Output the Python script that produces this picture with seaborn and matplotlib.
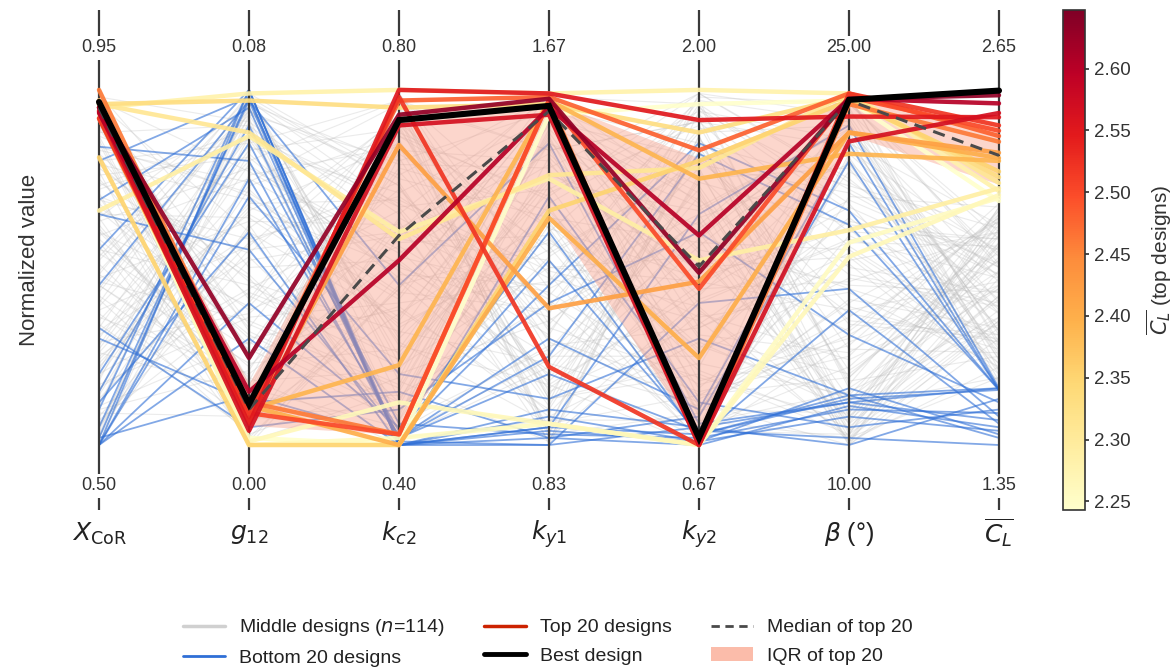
import numpy as np
import pandas as pd
import matplotlib
matplotlib.use("Agg")
import matplotlib.pyplot as plt
import seaborn as sns
from matplotlib.lines import Line2D
from matplotlib.patches import Patch
from matplotlib.colors import Normalize
from matplotlib.cm import ScalarMappable

sns.set_theme(style="white")
plt.rcParams['font.family'] = ['Liberation Sans', 'DejaVu Sans']

# ---------------- axes definition ----------------
axis_labels = [r"$X_{\mathrm{CoR}}$", r"$g_{12}$", r"$k_{c2}$", r"$k_{y1}$",
               r"$k_{y2}$", r"$\beta$ (°)", r"$\overline{C_L}$"]
axis_min = [0.50, 0.00, 0.40, 0.83, 0.67, 10.00, 1.35]
axis_max = [0.95, 0.08, 0.80, 1.67, 2.00, 25.00, 2.65]

# ---------------- top 20 designs (normalized values) ----------------
top_x = [0.966, 0.95, 0.935, 0.94, 0.95, 0.92, 0.94, 0.95, 1.0, 0.92, 0.97, 0.96, 0.81, 0.96, 0.96, 0.66, 0.95, 0.97, 0.96, 0.93]
top_g = [0.115, 0.245, 0.15, 0.04, 0.06, 0.08, 0.09, 0.10, 0.12, 0.06, 0.11, 0.10, 0.0, 0.97, 0.88, 0.87, 0.99, 0.01, 0.0, 0.02]
top_kc = [0.915, 0.93, 0.52, 0.90, 1.0, 0.98, 0.03, 0.97, 0.03, 0.845, 0.0, 0.225, 0.0, 0.95, 0.58, 0.60, 1.0, 0.12, 0.02, 0.0]
top_ky1 = [0.955, 0.975, 0.95, 0.93, 0.99, 0.22, 0.97, 0.98, 0.97, 0.385, 0.64, 0.97, 0.66, 0.96, 0.76, 0.75, 0.99, 0.06, 0.06, 0.93]
top_ky2 = [0.02, 0.485, 0.59, 0.0, 0.915, 0.0, 0.44, 0.83, 0.0, 0.46, 0.245, 0.75, 0.80, 0.88, 0.78, 0.52, 1.0, 0.0, 0.0, 0.96]
top_beta = [0.972, 0.975, 0.975, 0.855, 0.925, 0.99, 0.98, 0.99, 0.96, 0.88, 0.88, 0.82, 0.97, 0.98, 0.99, 0.605, 0.99, 0.53, 0.57, 0.97]
top_cl = [0.998, 0.985, 0.962, 0.935, 0.923, 0.90, 0.885, 0.87, 0.854, 0.823, 0.808, 0.80, 0.77, 0.754, 0.738, 0.723, 0.715, 0.704, 0.696, 0.687]

# ---------------- bottom 20 designs ----------------
bot_x = [0.00, 0.02, 0.84, 0.69, 0.65, 0.10, 0.00, 0.30, 0.33, 0.05, 0.15, 0.55, 0.00, 0.20, 0.00, 0.80, 0.45, 0.00, 0.02, 0.12]
bot_g = [1.00, 0.98, 0.80, 0.95, 0.55, 1.00, 0.40, 0.12, 0.05, 0.97, 0.90, 1.00, 0.30, 0.85, 0.70, 0.98, 0.97, 0.75, 0.14, 0.60]
bot_kc = [0.00, 0.00, 0.02, 0.00, 0.03, 0.01, 0.05, 0.15, 0.10, 0.00, 0.02, 0.00, 0.00, 0.06, 0.20, 0.00, 0.45, 0.04, 0.02, 0.00]
bot_ky1 = [0.05, 0.10, 0.30, 0.02, 0.45, 0.00, 0.60, 0.02, 0.40, 0.08, 0.20, 0.05, 0.70, 0.03, 0.13, 0.00, 0.85, 0.52, 0.25, 0.04]
bot_ky2 = [0.03, 0.05, 0.10, 0.08, 0.85, 0.40, 0.02, 0.00, 0.60, 0.01, 0.04, 0.65, 0.12, 0.02, 0.30, 0.05, 0.06, 0.03, 0.82, 0.01]
bot_beta = [0.13, 0.12, 0.85, 0.80, 0.66, 0.44, 0.38, 0.11, 0.31, 0.08, 0.02, 0.90, 0.05, 0.10, 0.14, 0.00, 0.12, 0.14, 0.62, 0.16]
bot_cl = [0.155, 0.16, 0.155, 0.155, 0.155, 0.08, 0.06, 0.05, 0.12, 0.04, 0.00, 0.16, 0.10, 0.09, 0.02, 0.13, 0.07, 0.16, 0.155, 0.03]

# ---------------- middle 114 designs ----------------
mid_x = [0.12, 0.85, 0.43, 0.67, 0.05, 0.91, 0.28, 0.56, 0.74, 0.18, 0.97, 0.35, 0.62, 0.08, 0.49, 0.81, 0.23, 0.70, 0.39,
         0.94, 0.15, 0.58, 0.31, 0.77, 0.02, 0.46, 0.88, 0.26, 0.65, 0.53, 0.11, 0.99, 0.37, 0.72, 0.20, 0.60, 0.84, 0.04,
         0.41, 0.69, 0.14, 0.90, 0.33, 0.57, 0.79, 0.07, 0.48, 0.95, 0.25, 0.63, 0.86, 0.17, 0.52, 0.01, 0.75, 0.30, 0.92,
         0.22, 0.66, 0.44, 0.09, 0.83, 0.55, 0.36, 0.98, 0.13, 0.71, 0.27, 0.89, 0.47, 0.03, 0.61, 0.78, 0.19, 0.93, 0.40,
         0.06, 0.73, 0.51, 0.87, 0.29, 0.64, 0.10, 0.96, 0.34, 0.80, 0.16, 0.59, 0.45, 0.00, 0.68, 0.24, 0.91, 0.38, 0.76,
         0.54, 0.21, 0.82, 0.42, 0.97, 0.11, 0.60, 0.32, 0.87, 0.05, 0.70, 0.48, 0.15, 0.93, 0.26, 0.64, 0.02, 0.79, 0.45]
mid_g = [0.72, 0.05, 0.95, 0.38, 0.61, 0.18, 0.88, 0.02, 0.47, 0.99, 0.26, 0.80, 0.13, 0.55, 0.93, 0.33, 0.67, 0.09, 0.84,
         0.41, 0.97, 0.22, 0.59, 0.01, 0.76, 0.35, 0.90, 0.15, 0.64, 0.98, 0.29, 0.50, 0.07, 0.86, 0.44, 0.19, 0.71, 0.96,
         0.03, 0.58, 0.82, 0.24, 0.92, 0.11, 0.69, 0.40, 0.99, 0.17, 0.53, 0.78, 0.06, 0.36, 0.94, 0.62, 0.28, 0.87, 0.12,
         0.66, 0.31, 0.97, 0.08, 0.74, 0.45, 0.20, 0.91, 0.57, 0.00, 0.83, 0.34, 0.63, 0.95, 0.14, 0.48, 0.79, 0.25, 0.98,
         0.52, 0.89, 0.10, 0.70, 0.37, 0.96, 0.21, 0.60, 0.04, 0.85, 0.43, 0.75, 0.16, 0.93, 0.30, 0.68, 0.01, 0.56, 0.81,
         0.27, 0.94, 0.46, 0.13, 0.77, 0.99, 0.39, 0.65, 0.08, 0.87, 0.54, 0.23, 0.91, 0.32, 0.73, 0.05, 0.97, 0.42, 0.18]
mid_kc = [0.33, 0.81, 0.07, 0.56, 0.92, 0.21, 0.68, 0.44, 0.02, 0.75, 0.39, 0.97, 0.14, 0.60, 0.28, 0.87, 0.50, 0.10, 0.71,
          0.95, 0.25, 0.63, 0.04, 0.48, 0.84, 0.17, 0.57, 0.99, 0.36, 0.73, 0.09, 0.52, 0.90, 0.31, 0.66, 0.00, 0.43, 0.79,
          0.19, 0.70, 0.46, 0.88, 0.06, 0.61, 0.34, 0.93, 0.23, 0.77, 0.12, 0.55, 0.98, 0.40, 0.65, 0.03, 0.83, 0.29, 0.58,
          0.85, 0.11, 0.67, 0.37, 0.96, 0.24, 0.53, 0.01, 0.74, 0.45, 0.89, 0.16, 0.62, 0.30, 0.94, 0.08, 0.49, 0.78, 0.20,
          0.59, 0.02, 0.91, 0.42, 0.72, 0.13, 0.86, 0.35, 0.64, 0.97, 0.26, 0.51, 0.05, 0.80, 0.38, 0.69, 0.15, 0.93, 0.47,
          0.07, 0.76, 0.32, 0.99, 0.54, 0.18, 0.82, 0.41, 0.04, 0.67, 0.90, 0.27, 0.61, 0.12, 0.87, 0.44, 0.73, 0.22, 0.96]
mid_ky1 = [0.58, 0.14, 0.89, 0.31, 0.03, 0.76, 0.47, 0.95, 0.22, 0.64, 0.08, 0.83, 0.40, 0.99, 0.17, 0.70, 0.36, 0.53, 0.92,
           0.26, 0.67, 0.01, 0.81, 0.45, 0.13, 0.97, 0.59, 0.34, 0.86, 0.05, 0.73, 0.20, 0.50, 0.93, 0.11, 0.62, 0.38, 0.78,
           0.96, 0.42, 0.09, 0.69, 0.27, 0.84, 0.55, 0.02, 0.74, 0.33, 0.91, 0.16, 0.61, 0.46, 0.98, 0.24, 0.80, 0.06, 0.52,
           0.37, 0.88, 0.19, 0.63, 0.00, 0.77, 0.43, 0.94, 0.12, 0.57, 0.29, 0.85, 0.04, 0.71, 0.48, 0.97, 0.21, 0.66, 0.35,
           0.82, 0.07, 0.54, 0.99, 0.30, 0.68, 0.15, 0.90, 0.41, 0.03, 0.75, 0.25, 0.60, 0.94, 0.10, 0.49, 0.87, 0.32, 0.18,
           0.65, 0.98, 0.23, 0.44, 0.79, 0.01, 0.56, 0.92, 0.28, 0.72, 0.13, 0.85, 0.39, 0.06, 0.61, 0.95, 0.17, 0.50, 0.83]
mid_ky2 = [0.21, 0.74, 0.48, 0.96, 0.09, 0.62, 0.35, 0.85, 0.02, 0.57, 0.29, 0.91, 0.14, 0.68, 0.43, 0.99, 0.05, 0.80, 0.38,
           0.64, 0.11, 0.87, 0.40, 0.97, 0.23, 0.55, 0.03, 0.78, 0.31, 0.94, 0.16, 0.70, 0.46, 0.08, 0.83, 0.27, 0.60, 0.99,
           0.13, 0.89, 0.52, 0.26, 0.72, 0.00, 0.93, 0.37, 0.66, 0.19, 0.81, 0.45, 0.06, 0.98, 0.33, 0.58, 0.24, 0.76, 0.10,
           0.95, 0.30, 0.61, 0.04, 0.86, 0.49, 0.17, 0.73, 0.99, 0.36, 0.12, 0.67, 0.41, 0.90, 0.01, 0.54, 0.82, 0.22, 0.63,
           0.44, 0.07, 0.79, 0.58, 0.15, 0.92, 0.34, 0.69, 0.02, 0.87, 0.50, 0.25, 0.97, 0.18, 0.75, 0.39, 0.09, 0.84, 0.56,
           0.28, 0.96, 0.11, 0.65, 0.42, 0.85, 0.05, 0.71, 0.33, 0.94, 0.20, 0.59, 0.88, 0.14, 0.47, 0.77, 0.00, 0.53, 0.91]
mid_beta = [0.05, 0.62, 0.88, 0.17, 0.41, 0.97, 0.02, 0.73, 0.29, 0.55, 0.10, 0.84, 0.36, 0.01, 0.67, 0.93, 0.22, 0.48, 0.08,
            0.79, 0.33, 0.03, 0.58, 0.91, 0.14, 0.45, 0.70, 0.00, 0.26, 0.86, 0.52, 0.06, 0.38, 0.99, 0.19, 0.64, 0.04, 0.75,
            0.31, 0.95, 0.12, 0.47, 0.02, 0.81, 0.60, 0.24, 0.90, 0.07, 0.39, 0.69, 0.15, 0.96, 0.54, 0.01, 0.77, 0.35, 0.09,
            0.66, 0.20, 0.87, 0.03, 0.50, 0.98, 0.28, 0.13, 0.74, 0.43, 0.00, 0.89, 0.57, 0.18, 0.82, 0.06, 0.34, 0.94, 0.11,
            0.46, 0.02, 0.71, 0.92, 0.25, 0.08, 0.63, 0.37, 0.85, 0.04, 0.53, 0.97, 0.16, 0.30, 0.78, 0.01, 0.59, 0.21, 0.89,
            0.13, 0.68, 0.40, 0.00, 0.83, 0.27, 0.96, 0.07, 0.51, 0.72, 0.03, 0.44, 0.90, 0.19, 0.61, 0.09, 0.80, 0.32, 0.56]
mid_cl = [0.42, 0.58, 0.25, 0.66, 0.33, 0.50, 0.19, 0.61, 0.45, 0.28, 0.55, 0.37, 0.64, 0.22, 0.48, 0.31, 0.59, 0.40, 0.53,
          0.26, 0.63, 0.35, 0.47, 0.18, 0.57, 0.43, 0.67, 0.30, 0.52, 0.24, 0.60, 0.38, 0.46, 0.21, 0.56, 0.34, 0.65, 0.41,
          0.54, 0.29, 0.62, 0.39, 0.49, 0.20, 0.58, 0.44, 0.32, 0.67, 0.27, 0.51, 0.36, 0.60, 0.23, 0.47, 0.55, 0.31, 0.64,
          0.37, 0.52, 0.17, 0.59, 0.43, 0.28, 0.65, 0.34, 0.50, 0.22, 0.61, 0.40, 0.56, 0.25, 0.46, 0.63, 0.30, 0.53, 0.19,
          0.60, 0.33, 0.48, 0.24, 0.66, 0.41, 0.55, 0.29, 0.62, 0.36, 0.20, 0.51, 0.44, 0.68, 0.27, 0.57, 0.39, 0.49, 0.32,
          0.45, 0.21, 0.63, 0.35, 0.54, 0.26, 0.58, 0.42, 0.18, 0.50, 0.67, 0.31, 0.47, 0.60, 0.23, 0.56, 0.38, 0.64, 0.29]

cl_ticks = [2.25, 2.30, 2.35, 2.40, 2.45, 2.50, 2.55, 2.60]


def to_long(cols, group):
    arr = np.array(cols).T  # designs x axes
    rows = []
    for d, vals in enumerate(arr):
        for a, v in enumerate(vals):
            rows.append((f"{group}{d}", a, v))
    return pd.DataFrame(rows, columns=["design", "axis", "value"])


top_arr = np.array([top_x, top_g, top_kc, top_ky1, top_ky2, top_beta, top_cl])  # axes x designs
top_cl_raw = axis_min[6] + np.array(top_cl) * (axis_max[6] - axis_min[6])
vmin, vmax = top_cl_raw.min(), top_cl_raw.max()
cmap = sns.color_palette("YlOrRd", as_cmap=True)

df_mid = to_long([mid_x, mid_g, mid_kc, mid_ky1, mid_ky2, mid_beta, mid_cl], "m")
df_bot = to_long([bot_x, bot_g, bot_kc, bot_ky1, bot_ky2, bot_beta, bot_cl], "b")
df_top = to_long([top_x, top_g, top_kc, top_ky1, top_ky2, top_beta, top_cl], "t")
df_top["CL"] = df_top["design"].map({f"t{i}": c for i, c in enumerate(top_cl_raw)})

fig = plt.figure(figsize=(11.74, 6.72), dpi=100)
ax = fig.add_axes([60 / 1174, 162 / 672, 975 / 1174, 500 / 672])
ax.set_xlim(-0.26, 6.24)
ax.set_ylim(-0.183, 1.225)

# axis lines
for i in range(7):
    ax.axvline(i, color="#3a3a3a", lw=1.6, zorder=3.5)

sns.lineplot(data=df_mid, x="axis", y="value", units="design", estimator=None,
             color="#bdbdbd", lw=0.8, alpha=0.3, sort=False, legend=False, ax=ax, zorder=1)
sns.lineplot(data=df_bot, x="axis", y="value", units="design", estimator=None,
             color="#2f6fd6", lw=1.3, alpha=0.6, sort=False, legend=False, ax=ax, zorder=2)

# IQR band and median of top 20
q1 = np.percentile(top_arr, 25, axis=1)
q3 = np.percentile(top_arr, 75, axis=1)
med = np.median(top_arr, axis=1)
ax.fill_between(range(7), q1, q3, color="#f9a48f", alpha=0.45, lw=0, zorder=3)

sns.lineplot(data=df_top, x="axis", y="value", units="design", estimator=None,
             hue="CL", palette=cmap, hue_norm=(vmin, vmax), lw=3.2, alpha=0.92,
             sort=False, legend=False, ax=ax, zorder=4)

ax.plot(range(7), med, color="#4a4a4a", lw=2.2, ls=(0, (4, 2.5)), zorder=5)
ax.plot(range(7), top_arr[:, 0], color="black", lw=4.4, zorder=6, solid_joinstyle="miter")

# tick labels at ends
for i in range(7):
    ax.text(i, 1.118, f"{axis_max[i]:.2f}", ha="center", va="center", fontsize=13, color="#333333",
            bbox=dict(facecolor="white", edgecolor="none", pad=2.5), zorder=7)
    ax.text(i, -0.115, f"{axis_min[i]:.2f}", ha="center", va="center", fontsize=13, color="#333333",
            bbox=dict(facecolor="white", edgecolor="none", pad=2.5), zorder=7)
    ax.text(i, -0.25, axis_labels[i], ha="center", va="center", fontsize=18, color="#222222",
            clip_on=False)

ax.set_xticks([])
ax.set_yticks([])
ax.set_xlabel("")
ax.set_ylabel("")
for s in ax.spines.values():
    s.set_visible(False)

fig.text(30 / 1174, 1 - 260 / 672, "Normalized value", rotation=90, ha="center", va="center",
         fontsize=16, color="#333333")

# colorbar
cax = fig.add_axes([1063 / 1174, 162 / 672, 22 / 1174, 500 / 672])
sm = ScalarMappable(norm=Normalize(vmin=vmin, vmax=vmax), cmap=cmap)
cb = fig.colorbar(sm, cax=cax)
cb.set_ticks(cl_ticks)
cb.set_ticklabels([f"{t:.2f}" for t in cl_ticks])
cb.ax.tick_params(labelsize=13.5, length=3, colors="#333333")
cb.outline.set_edgecolor("#333333")
cb.outline.set_linewidth(1.2)
cb.set_label(r"$\overline{C_L}$ (top designs)", fontsize=15, color="#333333", labelpad=10)

# legend
handles = [
    Line2D([], [], color="#d0d0d0", lw=2.5),
    Line2D([], [], color="#2f6fd6", lw=2),
    Line2D([], [], color="#cc2200", lw=2.5),
    Line2D([], [], color="black", lw=3.5),
    Line2D([], [], color="#4a4a4a", lw=2, ls=(0, (3, 2))),
    Patch(facecolor="#fbbcaa", edgecolor="none"),
]
labels = ["Middle designs ($n$=114)", "Bottom 20 designs", "Top 20 designs",
          "Best design", "Median of top 20", "IQR of top 20"]
fig.legend(handles, labels, ncol=3, loc="center", bbox_to_anchor=(548 / 1174, 1 - 642 / 672),
           frameon=False, fontsize=14, handlelength=2.15, handletextpad=0.75, columnspacing=2.0,
           labelspacing=0.55, labelcolor="#222222")

fig.savefig("out.png", dpi=100)
